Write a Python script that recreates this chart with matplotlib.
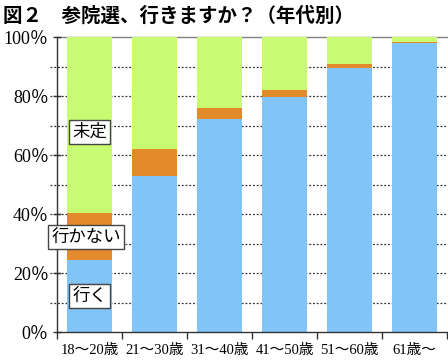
import matplotlib
matplotlib.use("Agg")
import matplotlib.pyplot as plt
import numpy as np

categories = ["18〜20歳", "21〜30歳", "31〜40歳", "41〜50歳", "51〜60歳", "61歳〜"]
iku = [24.5, 53.0, 72.2, 79.8, 89.5, 98.0]       # 行く
ikanai = [16.0, 9.0, 3.8, 2.2, 1.5, 0.3]         # 行かない
mitei = [59.5, 38.0, 24.0, 18.0, 9.0, 1.7]       # 未定
yticks = [0, 20, 40, 60, 80, 100]
ytick_labels = ["0％", "20％", "40％", "60％", "80％", "100％"]
series_labels = ["行く", "行かない", "未定"]
title = "図２　参院選、行きますか？（年代別）"

c_blue = "#80C4F8"
c_orange = "#E38A2B"
c_green = "#C8FA72"

W, H = 448, 361
fig = plt.figure(figsize=(W / 100, H / 100), dpi=100)
ax = fig.add_axes([57 / W, 1 - 332 / H, 390 / W, 295 / H])

x = np.arange(len(categories))
bw = 0.69
# gridlines (dotted), every 10%, extending slightly left of axis
trans = ax.get_yaxis_transform()
for g in range(10, 100, 10):
    ax.plot([-0.018, 1], [g, g], transform=trans, clip_on=False,
            color="#333333", lw=0.9, ls=(0, (1.5, 1.5)), zorder=0.5)
# top solid line
ax.plot([0, 1], [100, 100], transform=trans, clip_on=False,
        color="#808080", lw=1.0, zorder=0.6)

ax.bar(x, iku, bw, color=c_blue, zorder=2)
ax.bar(x, ikanai, bw, bottom=iku, color=c_orange, zorder=2)
bot2 = np.array(iku) + np.array(ikanai)
ax.bar(x, mitei, bw, bottom=bot2, color=c_green, zorder=2)

ax.set_xlim(-0.5, len(categories) - 0.5)
ax.set_ylim(0, 100)

for s in ["top", "right"]:
    ax.spines[s].set_visible(False)
ax.spines["left"].set_color("#333333")
ax.spines["bottom"].set_color("#333333")
ax.spines["left"].set_linewidth(1.0)
ax.spines["bottom"].set_linewidth(1.0)
ax.spines["left"].set_zorder(3)

tick_font = ["Liberation Serif", "Noto Sans CJK JP"]
ax.set_yticks(yticks)
ax.set_yticklabels(ytick_labels, family=tick_font, fontsize=13)
ax.tick_params(axis="y", direction="inout", length=6, width=1.0, color="#333333", pad=3)

ax.set_xticks(np.arange(-0.5, len(categories) + 0.5, 1.0))
ax.set_xticklabels([])
ax.tick_params(axis="x", direction="out", length=5, width=1.0, color="#333333")
for i, c in enumerate(categories):
    ax.text(i, -4.0, c, ha="center", va="top", family=tick_font, fontsize=10.5,
            transform=ax.transData, clip_on=False)

box = dict(boxstyle="square,pad=0.18", fc="white", ec="#444444", lw=1.0)
lab_font = ["Noto Sans CJK JP", "DejaVu Sans"]
ax.text(0, 12.2, series_labels[0], ha="center", va="center", fontsize=12.5,
        family=lab_font, bbox=box, zorder=5)
ax.text(-0.05, 32.2, series_labels[1], ha="center", va="center", fontsize=12.5,
        family=lab_font, bbox=box, zorder=5, clip_on=False)
ax.text(0, 67.8, series_labels[2], ha="center", va="center", fontsize=12.5,
        family=lab_font, bbox=box, zorder=5)

fig.text(3 / W, 1 - 16 / H, title, ha="left", va="center", fontsize=14,
         fontweight="bold", family=lab_font)

fig.savefig("out.png", dpi=100)
